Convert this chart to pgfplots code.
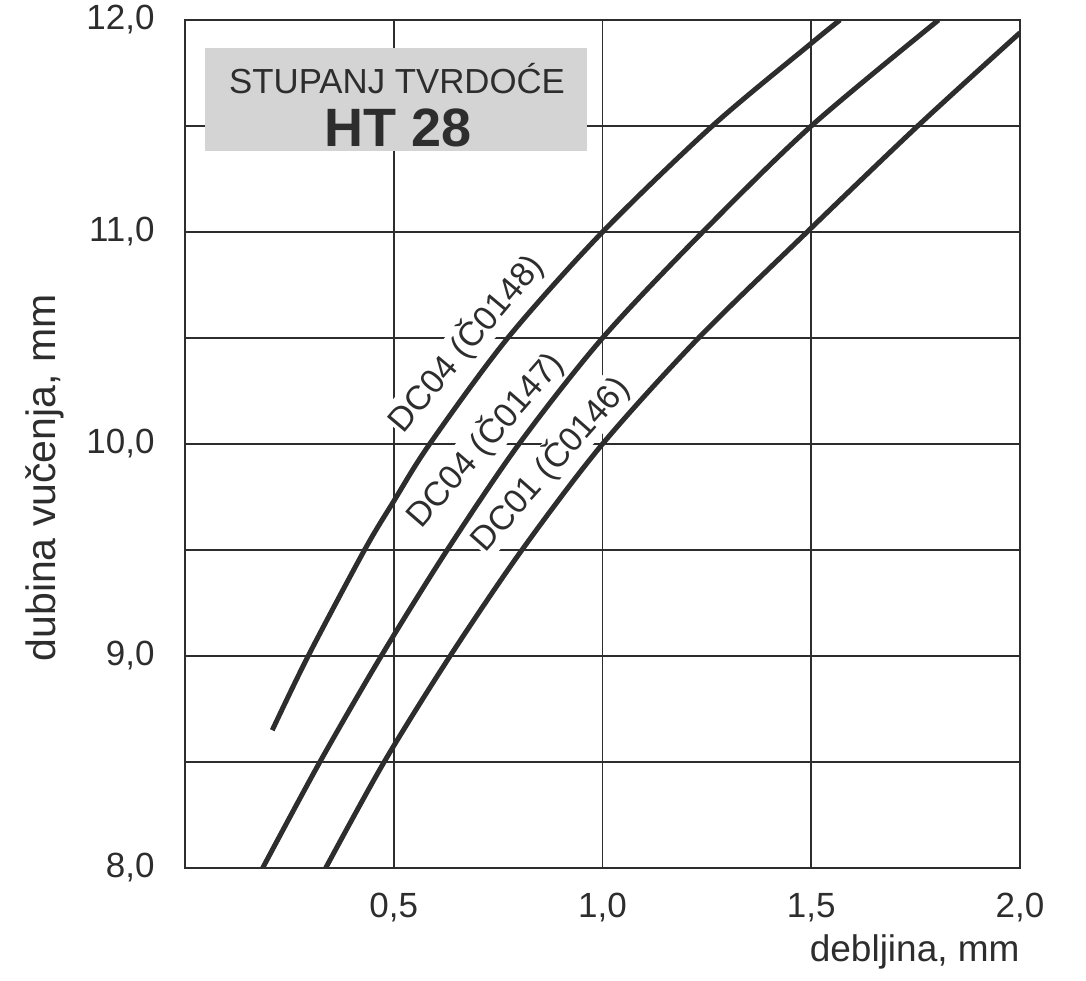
\documentclass[border=0pt]{standalone}
\usepackage{fontspec}
\setmainfont{Liberation Sans}
\usepackage{pgfplots}
\pgfplotsset{compat=1.18}
\definecolor{ink}{RGB}{45,45,45}
\definecolor{boxgray}{RGB}{212,212,212}
\begin{document}
\begin{tikzpicture}
\begin{axis}[
  scale only axis, width=417.5pt, height=424pt,
  xmin=0, xmax=2, ymin=8, ymax=12,
  xtick={0.5,1,1.5,2}, xticklabels={{0,5},{1,0},{1,5},{2,0}},
  ytick={8,9,10,11,12}, yticklabels={{8,0},{9,0},{10,0},{11,0},{12,0}},
  minor ytick={8.5,9.5,10.5,11.5},
  grid=both,
  major grid style={ink, line width=0.8pt},
  minor grid style={ink, line width=0.8pt},
  axis line style={ink, line width=0.9pt},
  major tick length=0pt, minor tick length=0pt,
  tick label style={font=\fontsize{17.5}{20}\selectfont, text=ink, inner sep=0pt},
  xticklabel style={anchor=north, yshift=-12.5pt},
  yticklabel style={anchor=east, xshift=-15pt},
  xlabel={debljina, mm},
  ylabel={dubina vučenja, mm},
  xlabel style={at={(rel axis cs:1,-0.078)}, anchor=north east, inner sep=0pt,
    font=\fontsize{18.5}{22}\selectfont, text=ink},
  ylabel style={at={(rel axis cs:-0.168,0.46)}, anchor=center, inner sep=0pt,
    font=\fontsize{20.5}{24}\selectfont, text=ink},
]
% hardness box
\fill[boxgray] (axis cs:0.047,11.38) rectangle (axis cs:0.963,11.87);
\node[text=ink, font=\fontsize{17.4}{20}\selectfont] at (axis cs:0.508,11.726) {STUPANJ TVRDOĆE};
\node[text=ink, font=\fontsize{27}{30}\selectfont\bfseries] at (axis cs:0.51,11.49) {HT 28};

% curve labels
\node[rotate=50, fill=white, inner sep=0.5pt, text=ink, font=\fontsize{17}{20}\selectfont]
  at (axis cs:0.672,10.476) {DC04 (Č0148)};
\node[rotate=49, fill=white, inner sep=0.5pt, text=ink, font=\fontsize{17}{20}\selectfont]
  at (axis cs:0.718,10.02) {DC04 (Č0147)};
\node[rotate=48.5, fill=white, inner sep=0.5pt, text=ink, font=\fontsize{17}{20}\selectfont]
  at (axis cs:0.874,9.906) {DC01 (Č0146)};

% DC04 (C0148)
\addplot[ink, line width=2.5pt, smooth, tension=0.5] coordinates {
(0.209,8.65)(0.295,9.0)(0.43,9.5)(0.5,9.73)(0.586,10.0)(0.773,10.5)(1.0,11.0)(1.263,11.5)(1.5,11.89)(1.569,12.0)};
% DC04 (C0147)
\addplot[ink, line width=2.5pt, smooth, tension=0.5] coordinates {
(0.186,8.0)(0.323,8.5)(0.47,9.0)(0.628,9.5)(0.80,10.0)(1.0,10.5)(1.24,11.0)(1.5,11.5)(1.805,12.0)};
% DC01 (C0146)
\addplot[ink, line width=2.5pt, smooth, tension=0.5] coordinates {
(0.337,8.0)(0.477,8.5)(0.635,9.0)(0.807,9.5)(1.0,10.0)(1.23,10.5)(1.49,11.0)(1.755,11.5)(2.0,11.94)};
\end{axis}
\path (current axis.south west) ++(-92.5pt,-56pt) rectangle ++(543pt,490pt);
\end{tikzpicture}
\end{document}
